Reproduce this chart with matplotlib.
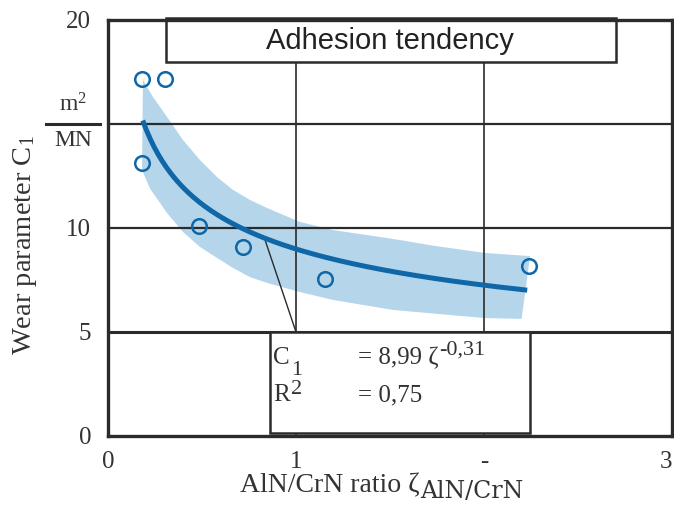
import numpy as np
import matplotlib
matplotlib.use('Agg')
import matplotlib.pyplot as plt
from matplotlib.patches import Rectangle, Polygon
from matplotlib.lines import Line2D

plt.rcParams['font.family'] = ['Liberation Serif', 'DejaVu Serif']
plt.rcParams['mathtext.fontset'] = 'custom'
plt.rcParams['mathtext.rm'] = 'Liberation Serif'
plt.rcParams['mathtext.it'] = 'Liberation Serif:italic'

# measured points
ratio = [0.183, 0.305, 0.181, 0.483, 0.72, 1.153, 2.24]
wear = [17.15, 17.15, 13.14, 10.11, 9.07, 7.56, 8.17]

# power-law fit printed in the chart: C1 = a * zeta^b
fit_a = 8.99
fit_b = -0.31
fit_range = (0.185, 2.23)

# scatter band
band_up_x = [0.186, 0.239, 0.314, 0.399, 0.489, 0.58, 0.665, 0.755, 0.846,
             1.021, 1.197, 1.378, 1.553, 1.729, 2.005, 2.245]
band_up_y = [17.12, 16.3, 15.34, 14.23, 13.27, 12.45, 11.83, 11.35, 10.96,
             10.29, 9.9, 9.66, 9.42, 9.15, 8.8, 8.65]
band_lo_x = [0.181, 0.223, 0.314, 0.399, 0.489, 0.58, 0.665, 0.755, 0.846,
             1.021, 1.197, 1.516, 2.005, 2.2]
band_lo_y = [12.79, 11.9, 10.72, 9.81, 9.09, 8.56, 8.08, 7.64, 7.36,
             6.92, 6.54, 6.06, 5.67, 5.63]

xticks = [0, 1, 2, 3]
xticklabels = ['0', '1', '-', '3']
yticks = [0, 5, 10, 15, 20]
yticklabels = ['0', '5', '10', '', '20']

blue = '#0f67a8'
band_col = '#b5d5ea'
dark = '#2b2b2b'
txt = '#333333'

fig = plt.figure(figsize=(6.74, 5.08), dpi=100)
ax = fig.add_axes([108 / 674, 1 - 436 / 508, 564 / 674, 416 / 508])
ax.set_xlim(0, 3)
ax.set_ylim(0, 20)
W, H = 674.0, 508.0

# band
pts = list(zip(band_up_x, band_up_y)) + list(zip(band_lo_x[::-1], band_lo_y[::-1]))
ax.add_patch(Polygon(pts, closed=True, facecolor=band_col, edgecolor='none', zorder=1))

# grid
ax.axhline(5, color=dark, lw=2.2, zorder=2)
ax.axhline(10, color=dark, lw=1.6, zorder=2)
ax.axhline(15, color=dark, lw=1.6, zorder=2)
ax.axvline(1, color=dark, lw=1.2, zorder=2)
ax.axvline(2, color=dark, lw=1.2, zorder=2)

# fit curve
xf = np.linspace(fit_range[0], fit_range[1], 200)
ax.plot(xf, fit_a * xf ** fit_b, color=blue, lw=3.6, zorder=4, solid_capstyle='butt')

# pointer from curve to equation box
ax.plot([0.83, 1.0], [9.57, 5.0], color=dark, lw=1.0, zorder=3)

ax.plot(ratio, wear, 'o', ms=10.5, mfc='none', mec=blue, mew=1.8, zorder=5)

# title box
ax.add_patch(Rectangle((0.307, 17.98), 2.7 - 0.307, 2.1, facecolor='white',
                       edgecolor=dark, lw=1.8, zorder=3, clip_on=False))
ax.text(1.5, 19.0, 'Adhesion tendency', family=['Liberation Sans'], fontsize=21,
        ha='center', va='center', color='#222222', zorder=6)

# equation box
ax.add_patch(Rectangle((0.862, 0.14), 2.245 - 0.862, 4.86, facecolor='white',
                       edgecolor=dark, lw=1.8, zorder=3))

for s in ax.spines.values():
    s.set_linewidth(2.4)
    s.set_color(dark)
    s.set_zorder(7)

ax.set_xticks(xticks)
ax.set_xticklabels(xticklabels)
ax.set_yticks(yticks)
ax.set_yticklabels(yticklabels)
ax.tick_params(length=0, labelsize=18, labelcolor=txt)
ax.tick_params(axis='x', pad=11)
ax.tick_params(axis='y', pad=12)
ax.get_xticklabels()[-1].set_ha('right')

# unit fraction at y = 15
ax.add_line(Line2D([-0.33, -0.04], [15, 15], color=dark, lw=2.2, clip_on=False))
ax.text(-0.185, 15.35, 'm$^2$', fontsize=17, ha='center', va='bottom', color=txt)
ax.text(-0.185, 14.7, 'MN', fontsize=17, ha='center', va='top', color=txt)

fig.text(25 / W, 1 - 245 / H, 'Wear parameter C$_{\\mathit{1}}$', rotation=90,
         fontsize=20.5, ha='center', va='center', color=txt)

# texts with full-size sub/superscripts, placed in pixels
renderer = fig.canvas.get_renderer()


def put(px, py, s, size, family=None, zorder=6):
    kw = dict(fontsize=size, ha='left', va='baseline', color=txt, zorder=zorder)
    if family:
        kw['family'] = family
    t = fig.text(px / W, 1 - py / H, s, **kw)
    return t.get_window_extent(renderer).x1


x_end = put(240, 492, 'AlN/CrN ratio ζ', 20)
put(x_end + 1, 498, 'AlN/CrN', 17, family=['DejaVu Serif'])

x_end = put(273, 364, 'C', 18)
put(x_end + 1, 375, '1', 16)
x_end = put(358, 364, '= 8,99 ζ', 18)
put(x_end + 1, 355, '-0,31', 16)
x_end = put(273, 401, 'R', 18)
put(x_end + 1, 394, '2', 16)
put(358, 401, '= 0,75', 18)

fig.savefig('out.png', dpi=100)
